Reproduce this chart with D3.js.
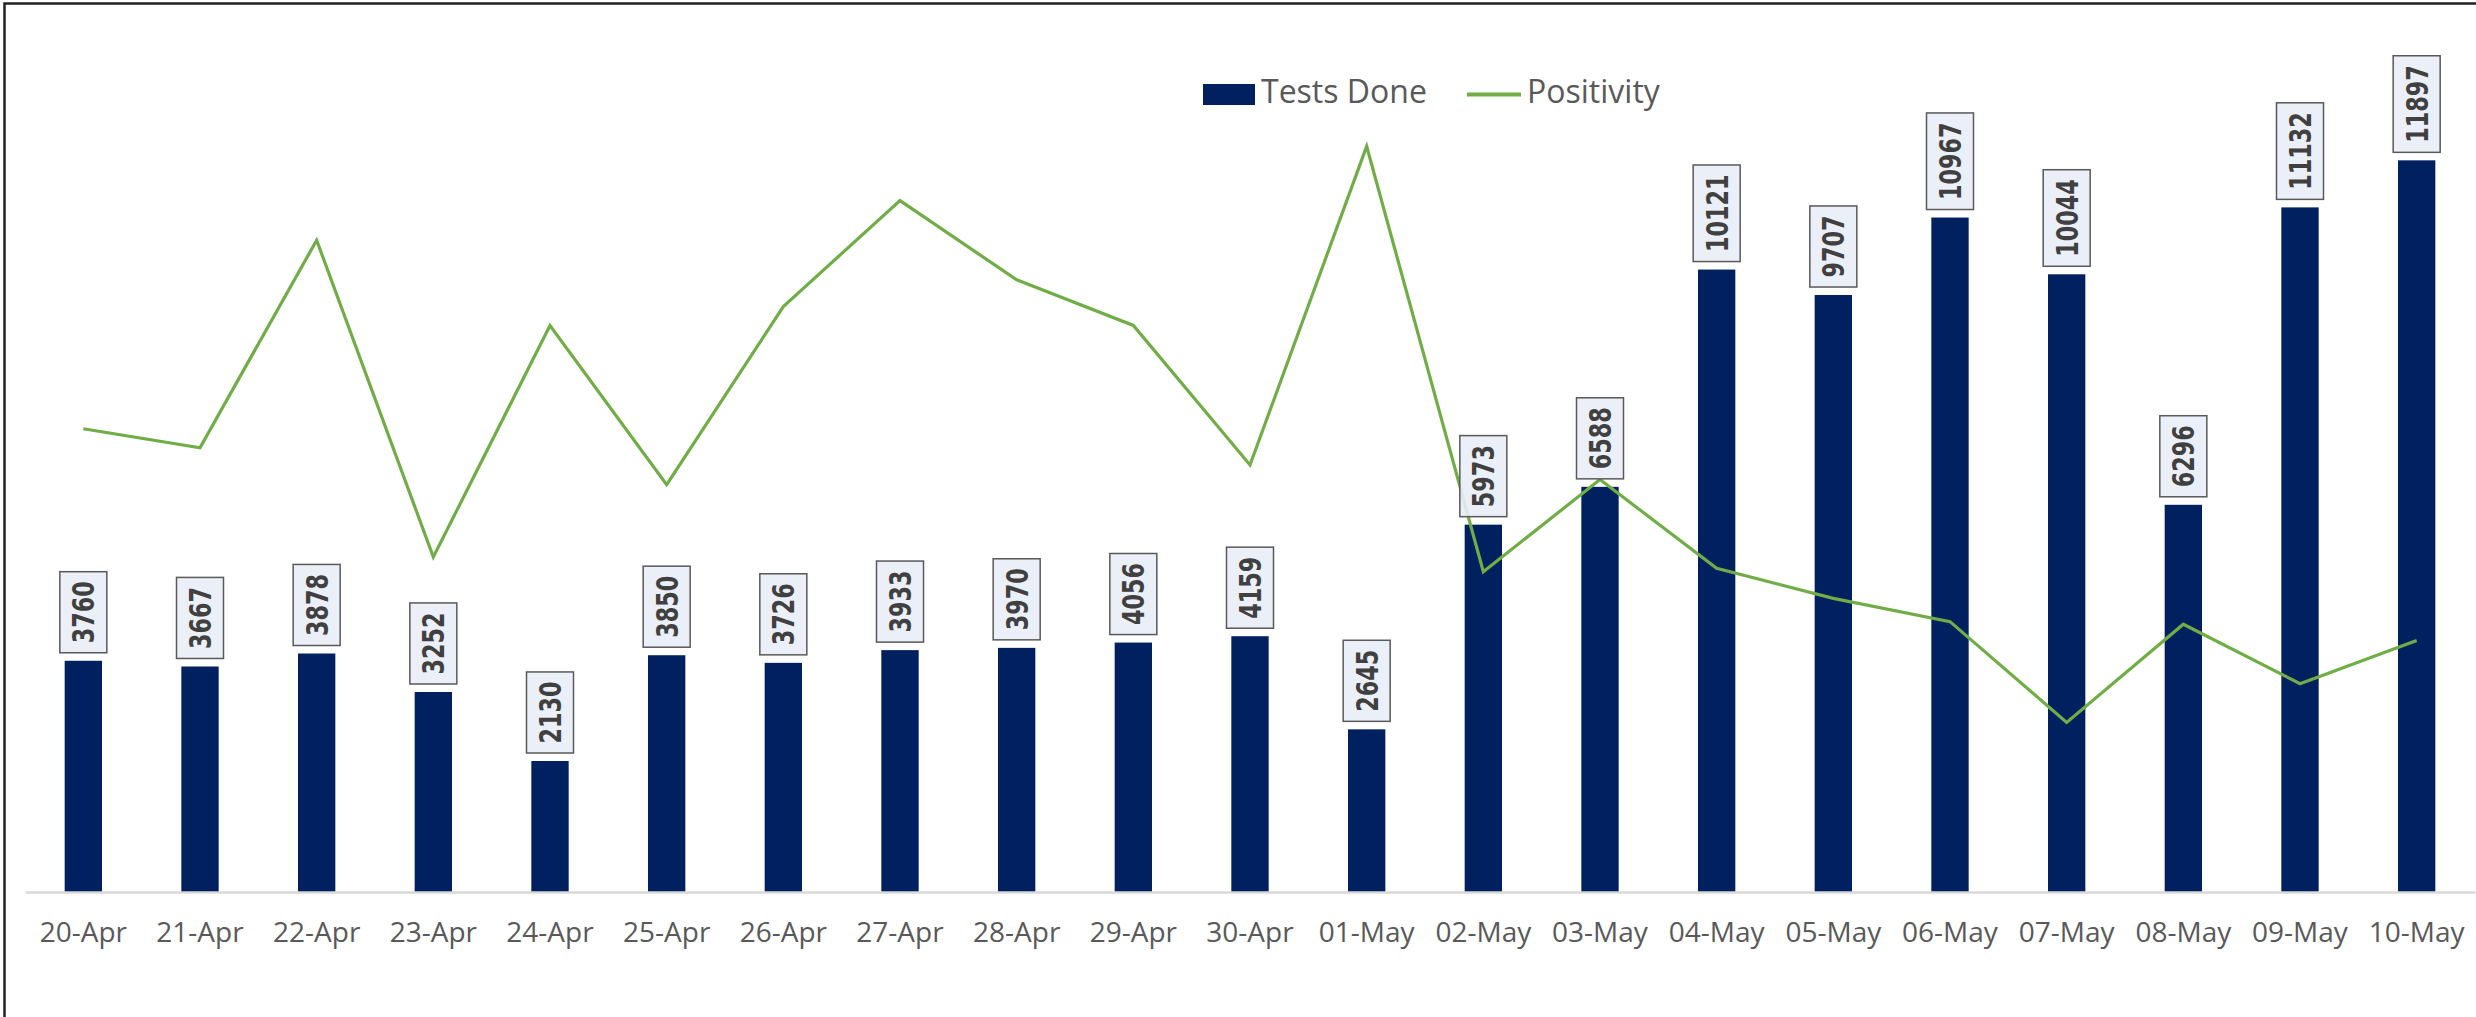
<!DOCTYPE html>
<html>
    <head>
        <title>Tests Done and Positivity</title>
        <script src="https://d3js.org/d3.v7.min.js"></script>
        <style>
            html, body {
                margin: 0;
                overflow: hidden;
                background: white;
            }

            #chart {
                display: block;
            }

            .xAxis .domain {
                stroke: #d9d9d9;
                stroke-width: 2.5;
            }

            .xAxis text {
                font-family: "Open Sans", sans-serif;
                font-size: 28px;
                fill: #595959;
            }
        </style>
    </head>
    <body>
        <svg id="chart" width=2476 height=1017></svg>

        <script>
            const dates = ['20-Apr', '21-Apr', '22-Apr', '23-Apr', '24-Apr', '25-Apr', '26-Apr',
                           '27-Apr', '28-Apr', '29-Apr', '30-Apr', '01-May', '02-May', '03-May',
                           '04-May', '05-May', '06-May', '07-May', '08-May', '09-May', '10-May'];

            const testsDone = [3760, 3667, 3878, 3252, 2130, 3850, 3726, 3933, 3970, 4056, 4159,
                               2645, 5973, 6588, 10121, 9707, 10967, 10044, 6296, 11132, 11897];

            // positivity in %, no axis shown so read from line position
            const positivity = [5.38, 5.16, 7.57, 3.89, 6.58, 4.73, 6.80, 8.03, 7.11, 6.58, 4.96,
                                8.66, 3.72, 4.79, 3.76, 3.41, 3.14, 1.97, 3.11, 2.42, 2.92];

            const seriesNames = ['Tests Done', 'Positivity'];

            const svg = d3.select('#chart');
            const width = svg.attr('width');
            const height = svg.attr('height');
            const margins = {
                top: 31,
                right: 1,
                bottom: 125,
                left: 25
            };

            const barColor = '#002060';
            const lineColor = '#70ad47';

            // outer frame (only top and left edges visible)
            svg.append('path')
               .attr('d', `M4.5,${height} L4.5,3.5 L${width},3.5`)
               .attr('fill', 'none')
               .attr('stroke', '#222')
               .attr('stroke-width', 2.5);

            // Scales
            let xScale = d3.scaleBand()
                           .domain(dates)
                           .range([margins.left, width - margins.right])
                           .paddingInner(0.68)
                           .paddingOuter(0.34);

            let yScale = d3.scaleLinear()
                           .domain([0, 14000])
                           .range([height - margins.bottom, margins.top]);

            let y2Scale = d3.scaleLinear()
                            .domain([0, 10])
                            .range([height - margins.bottom, margins.top]);

            // Axis
            let bottomAxis = d3.axisBottom(xScale)
                               .tickSize(0)
                               .tickPadding(30);

            // Bars
            svg.append('g')
               .attr('id', 'bars')
               .selectAll('rect')
               .data(testsDone)
               .join('rect')
               .attr('x', (d, i) => xScale(dates[i]))
               .attr('y', d => yScale(d))
               .attr('width', xScale.bandwidth())
               .attr('height', d => yScale(0) - yScale(d))
               .attr('fill', barColor);

            svg.append('g')
               .attr('class', 'xAxis')
               .attr('transform', `translate(0, ${yScale(0)})`)
               .call(bottomAxis);

            // Positivity line
            let line = d3.line()
                         .x((d, i) => xScale(dates[i]) + xScale.bandwidth() / 2)
                         .y(d => y2Scale(d));

            svg.append('path')
               .datum(positivity)
               .attr('d', line)
               .attr('fill', 'none')
               .attr('stroke', lineColor)
               .attr('stroke-width', 3.2)
               .attr('stroke-linejoin', 'miter');

            // Data labels, rotated text inside a small box above each bar
            let labels = svg.append('g')
                            .attr('id', 'labels')
                            .selectAll('g')
                            .data(testsDone)
                            .join('g');

            labels.each(function(d, i) {
                let g = d3.select(this);
                let cx = xScale(dates[i]) + xScale.bandwidth() / 2;
                let rect = g.append('rect');
                let txt = g.append('text')
                           .text(d)
                           .attr('text-anchor', 'middle')
                           .attr('dy', '0.36em')
                           .style('font-family', '"DejaVu Sans", sans-serif')
                           .style('font-weight', 'bold')
                           .style('font-size', '22.3px')
                           .attr('fill', '#404040');
                let len = txt.node().getComputedTextLength();
                let boxH = len + 19;
                let cy = yScale(d) - 8 - boxH / 2;
                txt.attr('transform', `translate(${cx}, ${cy}) rotate(-90) scale(1, 1.36)`);
                rect.attr('x', cx - 23.5)
                    .attr('y', cy - boxH / 2)
                    .attr('width', 47)
                    .attr('height', boxH)
                    .attr('fill', '#e9edf6')
                    .attr('fill-opacity', 0.9)
                    .attr('stroke', '#595959')
                    .attr('stroke-width', 1.5);
            });

            // Legend
            let legend = svg.append('g')
                            .attr('id', 'legend');

            legend.append('rect')
                  .attr('x', 1203)
                  .attr('y', 84)
                  .attr('width', 52)
                  .attr('height', 21)
                  .attr('fill', barColor);
            legend.append('text')
                  .attr('x', 1261)
                  .attr('y', 103)
                  .text(seriesNames[0]);

            legend.append('line')
                  .attr('x1', 1467)
                  .attr('x2', 1521)
                  .attr('y1', 94.5)
                  .attr('y2', 94.5)
                  .attr('stroke', lineColor)
                  .attr('stroke-width', 4);
            legend.append('text')
                  .attr('x', 1527)
                  .attr('y', 103)
                  .text(seriesNames[1]);

            legend.selectAll('text')
                  .style('font-family', '"Open Sans", sans-serif')
                  .style('font-size', '32px')
                  .attr('fill', '#595959');
        </script>
    </body>
</html>
